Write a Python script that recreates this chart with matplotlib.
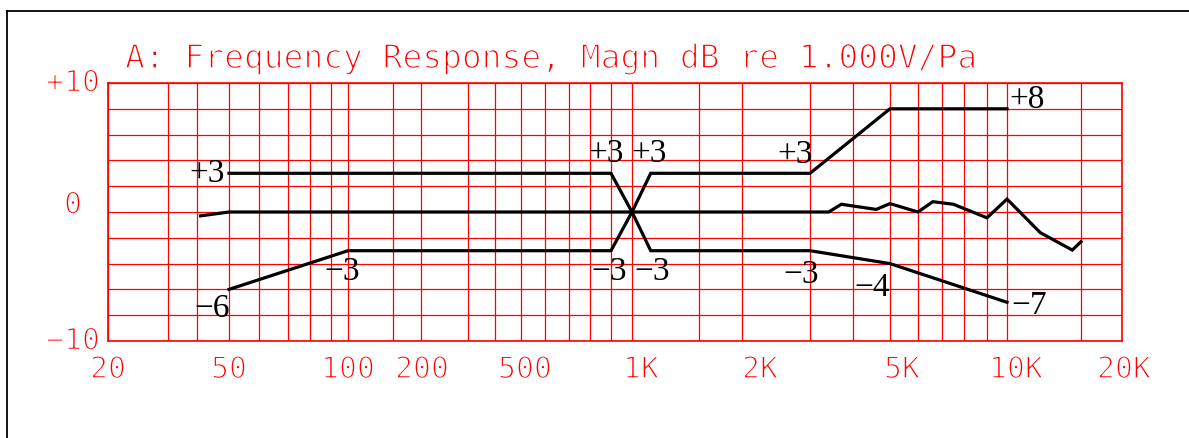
import numpy as np
import matplotlib
matplotlib.use("Agg")
import matplotlib.pyplot as plt
import matplotlib.patheffects as pe
from matplotlib.lines import Line2D

# gridline frequencies of the chart paper and where they sit along the x axis
GRID_F = [20, 30, 40, 50, 60, 70, 80, 90, 100, 150, 200, 300, 400, 500, 600,
          700, 800, 900, 1000, 1500, 2000, 3000, 4000, 5000, 6000, 7000, 8000,
          9000, 10000, 15000, 20000]
GRID_PX = [108, 168, 197, 229, 259, 288, 310, 331, 348, 393, 421, 468, 495,
           521, 545, 569, 590, 611, 632, 699, 742, 810, 853, 890, 918, 942,
           964, 987, 1007, 1081, 1122]

XTICK_F = [20, 50, 100, 200, 500, 1000, 2000, 5000, 10000, 20000]
XTICK_LAB = ["20", "50", "100", "200", "500", "1K", "2K", "5K", "10K", "20K"]
YTICK_V = [-10, 0, 10]
YTICK_LAB = ["−10", "0", "+10"]

# tolerance limits
UP_F = [50, 900, 1000, 1120, 3000, 5000, 10000]
UP_DB = [3, 3, 0, 3, 3, 8, 8]
LO_F = [50, 100, 900, 1000, 1120, 3000, 5000, 10000]
LO_DB = [-6, -3, -3, 0, -3, -3, -4, -7]

# measured response
RESP_F = [41, 50, 3400, 3700, 4600, 5000, 6000, 6600, 7500, 9000, 10000,
          12000, 14300, 15000]
RESP_DB = [-0.3, 0, 0, 0.6, 0.2, 0.65, 0, 0.8, 0.6, -0.45, 1.0, -1.6,
           -2.95, -2.3]

# limit annotations: text, anchor frequency, anchor dB
NOTE_TXT = ["+3", "+3", "+3", "+3", "+8", "−6", "−3", "−3", "−3", "−3", "−4", "−7"]
NOTE_F = [50, 900, 1120, 3000, 10000, 50, 100, 900, 1120, 3000, 5000, 10000]
NOTE_DB = [3, 3, 3, 3, 8, -6, -3, -3, -3, -3, -4, -7]

# offsets (pixels) and alignment of the annotations
NOTE_OFF = [(-4, -9), (13, 11), (-19, 11), (3, 10), (2, 1), (1, -28),
            (12, -29), (16, -29), (-16, -29), (9, -32), (0, -32), (4, -12)]
NOTE_HA = ["right", "right", "left", "right", "left", "right",
           "right", "right", "left", "right", "right", "left"]
XLAB_DX = [0, 0, 0, 1, 4, 9, 18, 12, 9, 2]

RED = "#ff0000"
W, H = 1189, 438

lf = np.log10(GRID_F)
gu = (np.array(GRID_PX) - GRID_PX[0]) / (GRID_PX[-1] - GRID_PX[0])


def fwd(f):
    f = np.clip(np.asarray(f, dtype=float), 1e-6, None)
    return np.interp(np.log10(f), lf, gu)


def inv(u):
    return 10 ** np.interp(u, gu, lf)


thin = [pe.Normal(), pe.Stroke(linewidth=1.1, foreground="white")]
redfont = dict(family="DejaVu Sans Mono", color=RED)

fig = plt.figure(figsize=(W / 100, H / 100), dpi=100)
ax = fig.add_axes([108 / W, 1 - 341 / H, (1122 - 108) / W, (341 - 83) / H])
ax.set_xscale("function", functions=(fwd, inv))
ax.set_xlim(20, 20000)
ax.set_ylim(-10, 10)

ax.set_xticks(GRID_F)
ax.set_xticklabels([])
ax.set_yticks(np.arange(-10, 11, 2))
ax.set_yticklabels([])
ax.xaxis.set_minor_locator(matplotlib.ticker.NullLocator())
ax.tick_params(length=0)
ax.grid(True, color=RED, lw=0.9)
for sp in ax.spines.values():
    sp.set_color(RED)
    sp.set_linewidth(1.2)

ax.plot(UP_F, UP_DB, color="black", lw=2.3, solid_joinstyle="miter")
ax.plot(LO_F, LO_DB, color="black", lw=2.3, solid_joinstyle="miter")
ax.plot(RESP_F, RESP_DB, color="black", lw=2.3, solid_joinstyle="miter")

for t, f, d, (dx, dy), ha in zip(NOTE_TXT, NOTE_F, NOTE_DB, NOTE_OFF, NOTE_HA):
    ax.annotate(t, xy=(f, d), xytext=(dx, dy), textcoords="offset pixels",
                ha=ha, va="baseline", fontsize=24, family="Liberation Serif",
                color="black")

for f, lab, dx in zip(XTICK_F, XTICK_LAB, XLAB_DX):
    ax.annotate(lab, xy=(f, 0), xycoords=("data", "axes fraction"),
                xytext=(dx, -37), textcoords="offset pixels", ha="center",
                va="baseline", fontsize=21.5, path_effects=thin, **redfont)

for v, lab in zip(YTICK_V, YTICK_LAB):
    dy = 7 if v == 0 else 0
    ax.annotate(lab, xy=(0, v), xycoords=("axes fraction", "data"),
                xytext=(-35, dy), textcoords="offset pixels", ha="center",
                va="center", fontsize=21.5, path_effects=thin, **redfont)

fig.text(125 / W, 1 - 68 / H, "A: Frequency Response, Magn dB re 1.000V/Pa",
         ha="left", va="baseline", fontsize=23.7, path_effects=thin, **redfont)

# frame of the original sheet
fig.add_artist(Line2D([7 / W, 1], [1 - 11 / H, 1 - 11 / H], color="black",
                      lw=1.3, transform=fig.transFigure))
fig.add_artist(Line2D([7 / W, 7 / W], [0, 1 - 11 / H], color="black",
                      lw=1.3, transform=fig.transFigure))

fig.savefig("out.png", dpi=100)
